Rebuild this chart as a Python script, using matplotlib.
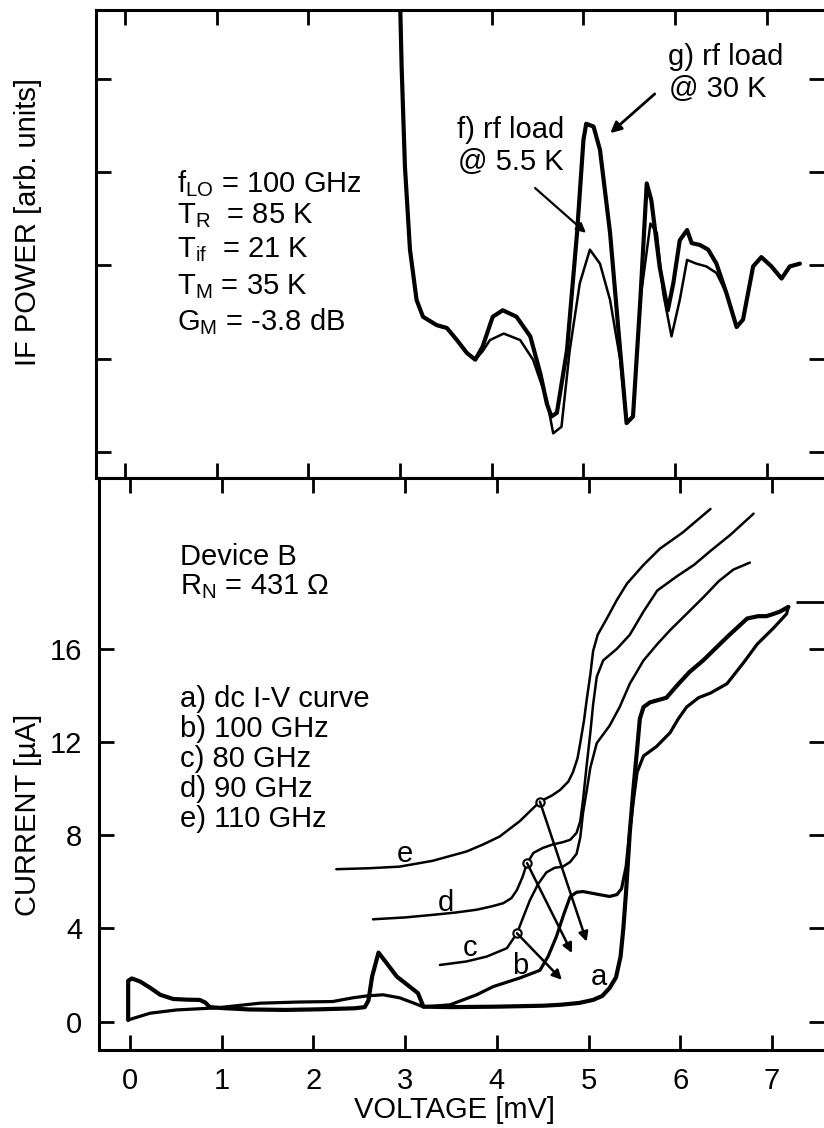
import matplotlib.pyplot as plt

# ---- top panel: IF power vs bias voltage ----
g_volt = [3.0, 3.017, 3.053, 3.108, 3.18, 3.25, 3.40, 3.51, 3.62, 3.73, 3.82, 3.90, 4.01, 4.12, 4.27,
          4.42, 4.53, 4.60, 4.65, 4.71, 4.82, 4.93, 5.00, 5.03, 5.11, 5.18, 5.29, 5.40, 5.47, 5.54,
          5.62, 5.69, 5.74, 5.83, 5.92, 5.98, 6.05, 6.13, 6.18, 6.27, 6.36, 6.45, 6.56, 6.67, 6.74,
          6.85, 6.94, 7.05, 7.16, 7.25, 7.36]
g_power = [4.85, 4.13, 3.06, 2.17, 1.63, 1.45, 1.36, 1.33, 1.20, 1.06, 0.99, 1.13, 1.45, 1.52, 1.45,
           1.24, 0.84, 0.52, 0.38, 0.42, 1.09, 2.35, 3.35, 3.52, 3.49, 3.24, 2.35, 1.09, 0.31, 0.38,
           1.63, 2.88, 2.70, 1.99, 1.52, 1.81, 2.27, 2.38, 2.24, 2.22, 2.17, 2.02, 1.70, 1.34, 1.42,
           1.99, 2.09, 1.99, 1.86, 1.99, 2.02]

f_volt = [3.0, 3.017, 3.053, 3.108, 3.18, 3.25, 3.40, 3.51, 3.62, 3.73, 3.82, 3.90, 3.98, 4.13, 4.31,
          4.45, 4.60, 4.67, 4.76, 4.85, 4.96, 5.07, 5.18, 5.29, 5.40, 5.47, 5.54, 5.62, 5.73, 5.80,
          5.87, 5.96, 6.05, 6.13, 6.23, 6.34, 6.45, 6.56, 6.67, 6.74, 6.85, 6.94, 7.05, 7.16, 7.25, 7.36]
f_power = [4.85, 4.13, 3.06, 2.17, 1.63, 1.45, 1.36, 1.33, 1.20, 1.06, 0.99, 1.08, 1.20, 1.27, 1.20,
           0.99, 0.56, 0.20, 0.27, 1.09, 1.81, 2.17, 2.02, 1.63, 0.99, 0.31, 0.38, 1.63, 2.45, 2.35,
           1.70, 1.24, 1.63, 2.06, 2.02, 1.99, 1.92, 1.70, 1.34, 1.42, 1.99, 2.09, 1.99, 1.86, 1.99, 2.02]

# ---- bottom panel: I-V curves ----
a_volt = [-0.02, -0.02, 0.02, 0.11, 0.22, 0.33, 0.47, 0.62, 0.76, 0.82, 0.87, 1.0, 1.3, 1.7, 2.1,
          2.45, 2.56, 2.6, 2.64, 2.71, 2.8, 2.91, 3.05, 3.14, 3.2, 3.5, 4.0, 4.5, 4.69, 4.9, 5.05,
          5.15, 5.23, 5.3, 5.35, 5.38, 5.41, 5.45, 5.49, 5.53, 5.56, 5.6, 5.67, 5.85, 5.96, 6.1,
          6.25, 6.38, 6.51, 6.62, 6.73, 6.85, 6.94, 7.02, 7.09, 7.18]
a_curr = [0.07, 1.75, 1.85, 1.72, 1.45, 1.15, 0.97, 0.94, 0.93, 0.82, 0.62, 0.58, 0.52, 0.5, 0.53,
          0.57, 0.62, 0.9, 1.93, 2.96, 2.5, 1.93, 1.5, 1.22, 0.64, 0.62, 0.64, 0.68, 0.72, 0.8, 0.93,
          1.1, 1.44, 1.9, 2.8, 4.0, 5.6, 8.1, 10.0, 11.7, 13.0, 13.5, 13.7, 13.9, 14.4, 15.0,
          15.5, 16.0, 16.5, 16.9, 17.3, 17.4, 17.4, 17.5, 17.6, 17.8]

b_volt = [-0.02, 0.22, 0.51, 0.95, 1.42, 1.85, 2.21, 2.43, 2.58, 2.76, 2.94, 3.09, 3.2, 3.49, 3.78,
          3.96, 4.25, 4.47, 4.56, 4.65, 4.73, 4.8, 4.87, 4.94, 5.05, 5.13, 5.23, 5.31, 5.36, 5.41,
          5.45, 5.49, 5.53, 5.6, 5.74, 5.89, 5.98, 6.07, 6.2, 6.33, 6.51, 6.69, 6.84, 7.02, 7.16, 7.18]
b_curr = [0.07, 0.36, 0.5, 0.59, 0.79, 0.84, 0.86, 1.02, 1.1, 1.15, 1.02, 0.8, 0.63, 0.72, 1.15,
          1.5, 1.87, 2.2, 2.8, 3.65, 4.6, 5.36, 5.55, 5.58, 5.5, 5.44, 5.37, 5.45, 5.7, 6.65,
          8.2, 9.5, 10.7, 11.4, 11.8, 12.4, 13.0, 13.5, 13.9, 14.1, 14.5, 15.4, 16.2, 16.9, 17.5, 17.8]

c_volt = [3.38, 3.67, 3.89, 4.11, 4.22, 4.29, 4.36, 4.45, 4.54, 4.63, 4.72, 4.8, 4.87, 4.91, 4.94,
          4.98, 5.02, 5.09, 5.23, 5.34, 5.45, 5.6, 5.75, 5.89, 6.07, 6.25, 6.42, 6.58, 6.76]
c_curr = [2.43, 2.58, 2.79, 3.15, 3.79, 4.5, 5.2, 5.9, 6.4, 6.6, 6.65, 6.85, 7.2, 7.9, 8.95,
          9.9, 10.9, 11.95, 12.7, 13.5, 14.5, 15.5, 16.2, 16.8, 17.5, 18.2, 18.9, 19.4, 19.7]

d_volt = [2.65, 3.0, 3.3, 3.55, 3.78, 3.95, 4.07, 4.16, 4.22, 4.28, 4.33, 4.4, 4.5, 4.61, 4.72,
          4.8, 4.87, 4.91, 4.94, 4.98, 5.02, 5.05, 5.09, 5.16, 5.31, 5.45, 5.6, 5.75, 5.96, 6.15,
          6.33, 6.55, 6.8]
d_curr = [4.39, 4.47, 4.58, 4.68, 4.8, 4.95, 5.08, 5.3, 5.65, 6.2, 6.8, 7.24, 7.45, 7.6, 7.7,
          7.8, 8.1, 8.6, 9.5, 11.0, 12.4, 13.6, 14.8, 15.5, 16.0, 16.6, 17.6, 18.5, 19.1, 19.6,
          20.2, 20.9, 21.8]

e_volt = [2.25, 2.6, 2.94, 3.3, 3.67, 3.85, 4.03, 4.25, 4.47, 4.6, 4.69, 4.78, 4.83, 4.88, 4.91,
          4.95, 4.98, 5.02, 5.05, 5.1, 5.2, 5.31, 5.42, 5.6, 5.78, 6.03, 6.18, 6.33]
e_curr = [6.54, 6.58, 6.65, 6.9, 7.3, 7.6, 7.94, 8.6, 9.44, 9.7, 9.94, 10.3, 10.7, 11.3, 11.96,
          12.9, 13.8, 14.9, 15.9, 16.6, 17.3, 18.1, 18.8, 19.6, 20.3, 21.0, 21.5, 22.0]

# pump points (open circles) and where their arrows point
circle_volt = [4.22, 4.33, 4.47]
circle_curr = [3.79, 6.8, 9.44]
head_volt = [4.71, 4.82, 4.98]
head_curr = [1.79, 2.94, 3.43]

curve_names = ['a', 'b', 'c', 'd', 'e']
name_volt = [5.11, 4.25, 3.71, 3.44, 3.0]
name_curr = [1.9, 2.4, 3.15, 5.1, 7.2]

legend_lines = ['a) dc I-V curve', 'b) 100 GHz', 'c) 80 GHz', 'd) 90 GHz', 'e) 110 GHz']
param_lines = [r'f$_{\mathregular{LO}}$ = 100 GHz', r'T$_{\mathregular{R}}$  = 85 K',
               r'T$_{\mathregular{if}}$  = 21 K', r'T$_{\mathregular{M}}$ = 35 K',
               r'G$_{\mathregular{M}}$ = -3.8 dB']

volt_ticks = [0, 1, 2, 3, 4, 5, 6, 7]
curr_ticks = [0, 4, 8, 12, 16]
extra_right_tick = [18]
power_ticks = [0, 1, 2, 3, 4]

plt.rcParams['font.family'] = ['Liberation Sans', 'DejaVu Sans']
plt.rcParams['mathtext.fontset'] = 'custom'
plt.rcParams['mathtext.rm'] = 'Liberation Sans'
plt.rcParams['mathtext.it'] = 'Liberation Sans'
plt.rcParams['lines.solid_joinstyle'] = 'round'
plt.rcParams['lines.solid_capstyle'] = 'round'
FS = 21

W, H = 824, 1128
fig = plt.figure(figsize=(W / 100, H / 100), dpi=100)


def box(left, top, right, bottom):
    return [left / W, 1 - bottom / H, (right - left) / W, (bottom - top) / H]


def style(ax):
    for side in ['left', 'top', 'bottom']:
        ax.spines[side].set_linewidth(2.2)
    ax.spines['right'].set_visible(False)
    ax.tick_params(which='both', direction='in', length=11, width=2.0,
                   top=True, right=True, labelsize=FS, pad=12)


ax_top = fig.add_axes(box(96, 10, 824, 478))
ax_bot = fig.add_axes(box(99, 478, 824, 1050))

# top panel
ax_top.plot(f_volt, f_power, color='black', lw=1.8)
ax_top.plot(g_volt, g_power, color='black', lw=3.0)
ax_top.set_xlim(-0.316, 7.623)
ax_top.set_ylim(-0.279, 4.74)
ax_top.set_xticks(volt_ticks)
ax_top.set_yticks(power_ticks)
style(ax_top)
ax_top.tick_params(labelbottom=False, labelleft=False)

ax_top.text(5.92, 4.15, 'g) rf load', fontsize=FS)
ax_top.text(5.93, 3.81, '@ 30 K', fontsize=FS)
ax_top.text(3.62, 3.37, 'f) rf load', fontsize=FS)
ax_top.text(3.63, 3.02, '@ 5.5 K', fontsize=FS)
ax_top.annotate('', xy=(5.27, 3.40), xytext=(5.80, 3.86),
                arrowprops=dict(arrowstyle='-|>', color='black', lw=2.0, mutation_scale=16))
ax_top.annotate('', xy=(5.05, 2.33), xytext=(4.45, 2.85),
                arrowprops=dict(arrowstyle='-|>', color='black', lw=1.6, mutation_scale=14))

for k, line in enumerate(param_lines):
    baseline = [192, 223, 257, 294, 330][k]
    fig.text(177 / W, 1 - baseline / H, line, fontsize=FS, va='baseline')

fig.text(28 / W, 1 - 222 / H, 'IF POWER [arb. units]', fontsize=FS,
         rotation=90, ha='center', va='center')

# bottom panel
ax_bot.plot(c_volt, c_curr, color='black', lw=1.8)
ax_bot.plot(d_volt, d_curr, color='black', lw=1.8)
ax_bot.plot(e_volt, e_curr, color='black', lw=1.8)
ax_bot.plot(b_volt, b_curr, color='black', lw=2.3)
ax_bot.plot(a_volt, a_curr, color='black', lw=3.0)

for k in range(len(circle_volt)):
    ax_bot.annotate('', xy=(head_volt[k], head_curr[k]), xytext=(circle_volt[k], circle_curr[k]),
                    arrowprops=dict(arrowstyle='-|>', color='black', lw=1.8, mutation_scale=14,
                                    shrinkA=0, shrinkB=0))
ax_bot.plot(circle_volt, circle_curr, 'o', ms=6, mfc='white', mec='black', mew=1.5)

for k, name in enumerate(curve_names):
    ax_bot.text(name_volt[k], name_curr[k], name, fontsize=FS, ha='center', va='center')

ax_bot.set_xlim(-0.338, 7.568)
ax_bot.set_ylim(-1.22, 23.33)
ax_bot.set_xticks(volt_ticks)
ax_bot.set_yticks(curr_ticks)
ax_bot.set_yticks(extra_right_tick, minor=True)
style(ax_bot)
ax_bot.tick_params(labeltop=False, labelright=False)
ax_bot.tick_params(axis='y', which='minor', left=False, right=True, length=20)

fig.text(180 / W, 1 - 565 / H, 'Device B', fontsize=FS, va='baseline')
fig.text(180 / W, 1 - 594 / H, r'R$_{\mathregular{N}}$ = 431 Ω', fontsize=FS, va='baseline')
for k, line in enumerate(legend_lines):
    fig.text(180 / W, 1 - (707 + 30 * k) / H, line, fontsize=FS, va='baseline')

fig.text(28 / W, 1 - 815 / H, 'CURRENT [µA]', fontsize=FS,
         rotation=90, ha='center', va='center')
fig.text(455 / W, 1 - 1110 / H, 'VOLTAGE [mV]', fontsize=FS, ha='center', va='center')

fig.savefig('out.png', dpi=100)
